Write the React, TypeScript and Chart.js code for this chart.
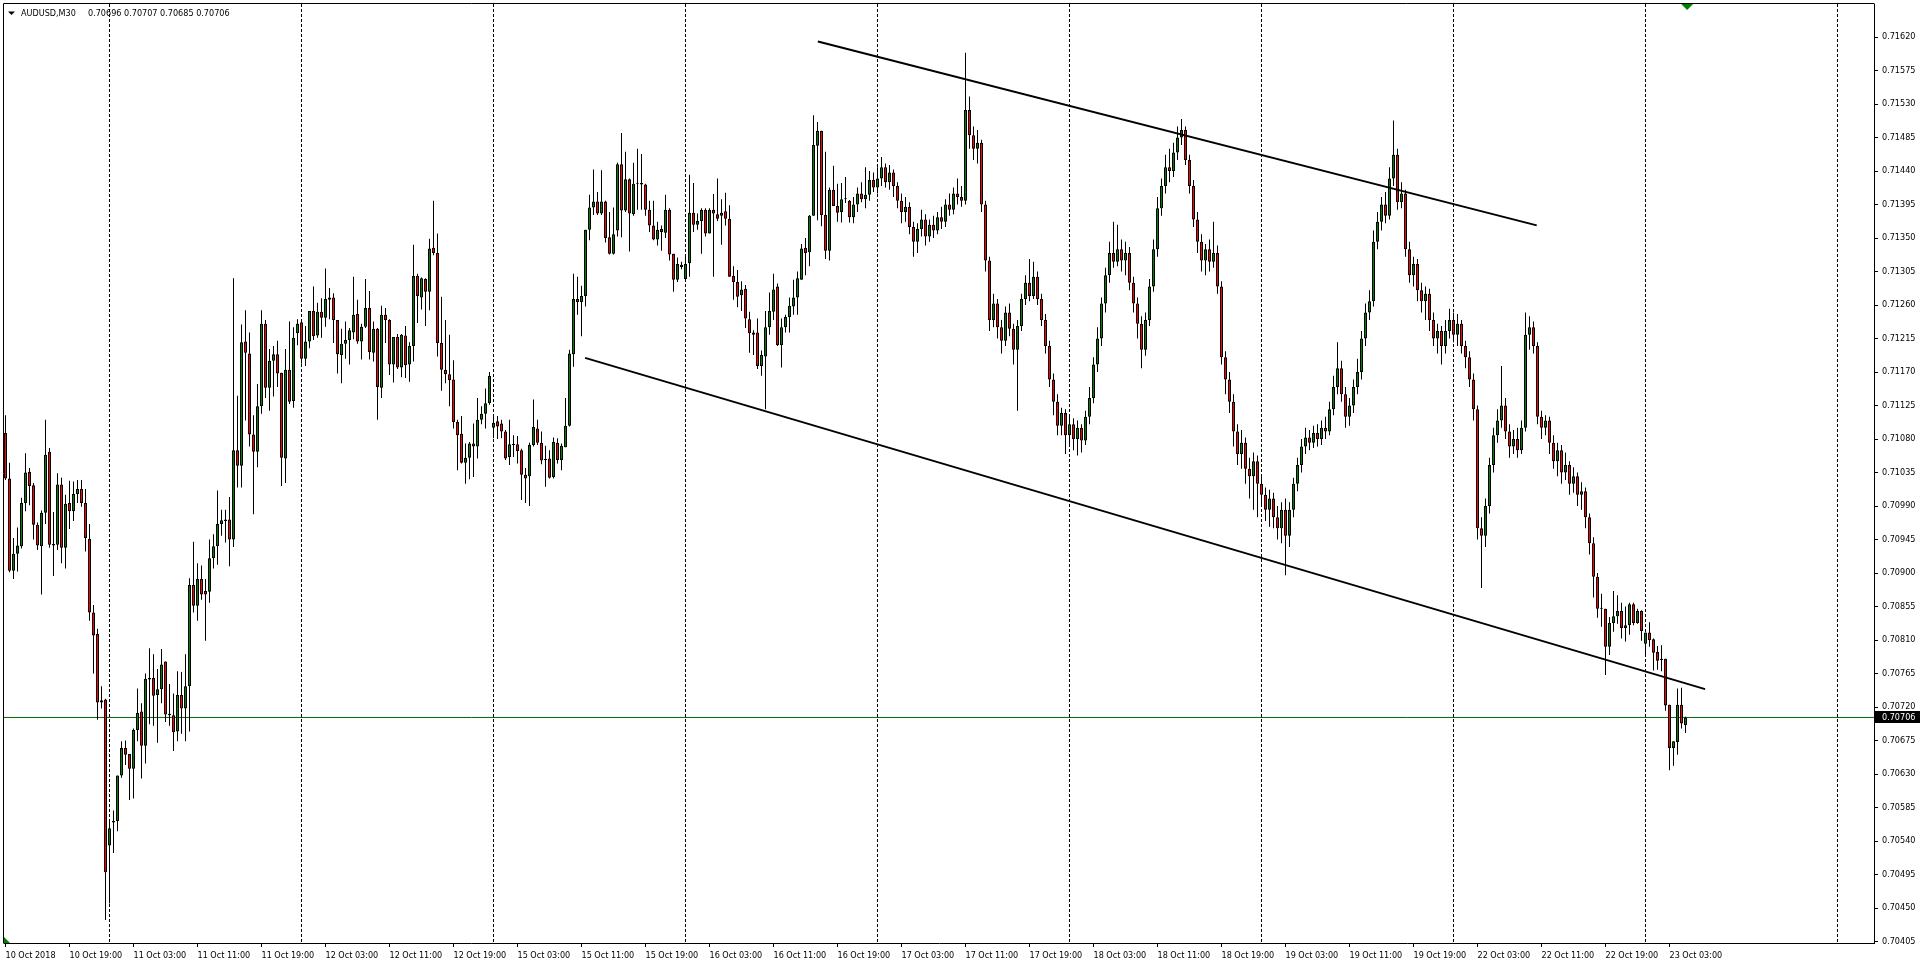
import React, { useEffect, useRef } from "react";
import { Chart, registerables } from "chart.js";

Chart.register(...registerables);

const symbolLabel = "AUDUSD,M30";

const timeLabels = [
  "10 Oct 2018", "10 Oct 19:00", "11 Oct 03:00", "11 Oct 11:00", "11 Oct 19:00",
  "12 Oct 03:00", "12 Oct 11:00", "12 Oct 19:00", "15 Oct 03:00", "15 Oct 11:00",
  "15 Oct 19:00", "16 Oct 03:00", "16 Oct 11:00", "16 Oct 19:00", "17 Oct 03:00",
  "17 Oct 11:00", "17 Oct 19:00", "18 Oct 03:00", "18 Oct 11:00", "18 Oct 19:00",
  "19 Oct 03:00", "19 Oct 11:00", "19 Oct 19:00", "22 Oct 03:00", "22 Oct 11:00",
  "22 Oct 19:00", "23 Oct 03:00",
];
const timeLabelIndex = [
  0, 16, 32, 48, 64, 80, 96, 112, 128, 144, 160, 176, 192, 208, 224, 240, 256,
  272, 288, 304, 320, 336, 352, 368, 384, 400, 416,
];
const daySeparatorIndex = [26, 74, 122, 170, 218, 266, 314, 362, 410, 458];

const priceTicks = [
  0.70405, 0.7045, 0.70495, 0.7054, 0.70585, 0.7063, 0.70675, 0.7072, 0.70765,
  0.7081, 0.70855, 0.709, 0.70945, 0.7099, 0.71035, 0.7108, 0.71125, 0.7117,
  0.71215, 0.7126, 0.71305, 0.7135, 0.71395, 0.7144, 0.71485, 0.7153, 0.71575,
  0.7162,
];

const opens = [
  0.71088, 0.71027, 0.70903, 0.70926, 0.70936, 0.70994, 0.71036, 0.71018, 0.70965, 0.70936,
  0.70981, 0.71063, 0.70939, 0.70938, 0.71019, 0.70934, 0.70994, 0.70983, 0.71006, 0.71013,
  0.70994, 0.70946, 0.70847, 0.70818, 0.70726, 0.7073, 0.70534, 0.70565, 0.70567, 0.70628,
  0.70665, 0.70657, 0.70637, 0.70689, 0.70714, 0.70668, 0.70757, 0.70759, 0.70736, 0.70744,
  0.70781, 0.70709, 0.70709, 0.70687, 0.70736, 0.70718, 0.70748, 0.70884, 0.70856, 0.70892,
  0.70876, 0.70875, 0.7092, 0.70936, 0.70966, 0.7097, 0.70972, 0.70945, 0.71065, 0.71044,
  0.71211, 0.71195, 0.71086, 0.71063, 0.71124, 0.71235, 0.71149, 0.71185, 0.71194, 0.71169,
  0.71054, 0.71173, 0.71131, 0.71222, 0.71237, 0.71188, 0.71211, 0.71252, 0.71219, 0.71251,
  0.71243, 0.71267, 0.7127, 0.7124, 0.71193, 0.71208, 0.71213, 0.71223, 0.71248, 0.71211,
  0.71231, 0.71256, 0.71196, 0.71228, 0.71149, 0.71247, 0.7124, 0.7118, 0.71217, 0.71176,
  0.71219, 0.7118, 0.71205, 0.71299, 0.7127, 0.71295, 0.71278, 0.71337, 0.7133, 0.71209,
  0.71173, 0.71167, 0.7116, 0.71103, 0.71087, 0.71048, 0.71055, 0.71074, 0.7107, 0.71106,
  0.71114, 0.71128, 0.71095, 0.71104, 0.71101, 0.7109, 0.71056, 0.71072, 0.71073, 0.71065,
  0.71032, 0.7103, 0.71072, 0.71094, 0.71075, 0.71052, 0.71054, 0.71029, 0.71075, 0.71052,
  0.71069, 0.71098, 0.71194, 0.71268, 0.71264, 0.71272, 0.71361, 0.71391, 0.71399, 0.71383,
  0.71399, 0.71351, 0.71329, 0.7136, 0.71449, 0.71387, 0.71429, 0.71382, 0.71423, 0.71424,
  0.71422, 0.71388, 0.71367, 0.71348, 0.71362, 0.71357, 0.71388, 0.71329, 0.71294, 0.71314,
  0.71295, 0.71316, 0.71384, 0.71368, 0.71373, 0.71388, 0.71356, 0.71388, 0.71382, 0.7138,
  0.71386, 0.71376, 0.71299, 0.71291, 0.71273, 0.71282, 0.71241, 0.71223, 0.71223, 0.71178,
  0.71191, 0.7123, 0.71251, 0.71285, 0.71206, 0.7123, 0.71244, 0.71258, 0.7127, 0.71294,
  0.71337, 0.71331, 0.7138, 0.71474, 0.71494, 0.71381, 0.71333, 0.71415, 0.71393, 0.71385,
  0.71402, 0.714,
  0.71378, 0.71395, 0.7141, 0.71402, 0.71408, 0.71428, 0.71418, 0.7143,
  0.71445, 0.71425, 0.71438, 0.7142, 0.714, 0.71385, 0.71392, 0.71365, 0.71345, 0.71362,
  0.71375, 0.71352, 0.71368, 0.7136, 0.71378, 0.71372, 0.71395, 0.71388, 0.7141, 0.71405,
  0.714, 0.71522, 0.71488, 0.7147, 0.71478, 0.71395, 0.7132, 0.7124, 0.71262, 0.7123,
  0.71212, 0.7125, 0.71228, 0.712, 0.71232, 0.71268, 0.7129, 0.71272, 0.71298, 0.71268,
  0.7124, 0.71205, 0.7116, 0.7113, 0.71098, 0.71115, 0.71085, 0.711, 0.7108, 0.71095,
  0.71078, 0.7111, 0.71135, 0.7118, 0.71215, 0.71262, 0.713, 0.7133, 0.71318, 0.71335,
  0.7132, 0.7133, 0.7129, 0.71262, 0.71235, 0.712, 0.7124, 0.71285, 0.71335, 0.7139,
  0.7142, 0.71445, 0.7144, 0.71465, 0.71485, 0.71495, 0.71455, 0.7142, 0.71375, 0.71345,
  0.7132, 0.71335, 0.71318, 0.7133, 0.71285, 0.7119, 0.7116, 0.7113, 0.7109, 0.7106,
  0.71075, 0.7104, 0.7103, 0.7105, 0.7102, 0.71005, 0.70985, 0.71, 0.70975, 0.7096,
  0.70985, 0.7095, 0.70985, 0.7102, 0.71045, 0.7107, 0.71082, 0.71075, 0.71088, 0.7108,
  0.71095, 0.7109, 0.7112, 0.7115, 0.71175, 0.7114, 0.7111, 0.71125, 0.7115, 0.7117,
  0.71215, 0.7125, 0.71265, 0.71345, 0.71372, 0.71395, 0.7138, 0.7143, 0.71462, 0.71398,
  0.7141, 0.71335, 0.713, 0.71315, 0.7128, 0.71265, 0.71275, 0.7124, 0.71215, 0.71225,
  0.71205, 0.71225, 0.7124, 0.7122, 0.71235, 0.71205, 0.7119, 0.7116, 0.7112, 0.7096,
  0.7095, 0.7099, 0.71045, 0.71085, 0.71105, 0.71125, 0.7109, 0.7107, 0.7108, 0.71065,
  0.71095, 0.7122, 0.7123, 0.71205, 0.7111, 0.71095, 0.71105, 0.71075, 0.7105, 0.71065,
  0.71035, 0.71045, 0.7102, 0.7103, 0.71005, 0.7101, 0.70975, 0.7094, 0.70895, 0.70853,
  0.70852, 0.70801, 0.70833, 0.70842, 0.70849, 0.70826, 0.7083, 0.70858, 0.70833, 0.70849,
  0.70805, 0.7082, 0.70811, 0.70794, 0.70785, 0.70785, 0.70723, 0.70665, 0.70673, 0.70723,
  0.70696,
];
const highs = [
  0.71112, 0.71048, 0.70947, 0.70961, 0.71001, 0.71061, 0.71041, 0.71021, 0.70968, 0.70984,
  0.71106, 0.71068, 0.70982, 0.71034, 0.71028, 0.71005, 0.71024, 0.71023, 0.71025, 0.71025,
  0.71013, 0.70966, 0.70857, 0.70825, 0.70748, 0.70731, 0.70568, 0.70581, 0.70628, 0.70674,
  0.70675, 0.70657, 0.70691, 0.70745, 0.70725, 0.70765, 0.70799, 0.70791, 0.70771, 0.70798,
  0.70781, 0.70751, 0.70738, 0.70768, 0.70767, 0.70791, 0.70893, 0.70942, 0.70913, 0.7091,
  0.70892, 0.70945, 0.70952, 0.71011, 0.70985, 0.70985, 0.71002, 0.71296, 0.71138, 0.71234,
  0.71253, 0.71223, 0.71112, 0.71154, 0.71253, 0.7124, 0.71201, 0.71205, 0.71212, 0.71169,
  0.71201, 0.71238, 0.7123, 0.71241, 0.71238, 0.71232, 0.71252, 0.71285, 0.71263, 0.71269,
  0.71309, 0.71283, 0.71276, 0.7124, 0.71228, 0.71238, 0.71229, 0.71298, 0.71267, 0.71235,
  0.71295, 0.71279, 0.71238, 0.71229, 0.71259, 0.71256, 0.71241, 0.71217, 0.71221, 0.71221,
  0.71232, 0.7121, 0.71341, 0.71302, 0.71297, 0.71296, 0.71349, 0.714, 0.71356, 0.71271,
  0.7124, 0.7122, 0.71186, 0.71106, 0.71111, 0.71074, 0.71076, 0.71101, 0.71135, 0.71124,
  0.71148, 0.7117, 0.7111, 0.71111, 0.71106, 0.71092, 0.71106, 0.71085, 0.71084, 0.71067,
  0.71041, 0.71075, 0.71133, 0.71106, 0.7109, 0.71071, 0.71065, 0.71082, 0.71081, 0.71074,
  0.71135, 0.712, 0.71302, 0.71298, 0.71286, 0.71361, 0.71408, 0.71442, 0.71412, 0.71441,
  0.714, 0.71385, 0.71391, 0.71451, 0.71491, 0.71466, 0.7143, 0.71451, 0.7147, 0.71463,
  0.71423, 0.714, 0.714, 0.71372, 0.71367, 0.71408, 0.7139, 0.71329, 0.71324, 0.71318,
  0.71328, 0.71435, 0.71424, 0.71383, 0.7139, 0.7139, 0.7139, 0.71409, 0.7143, 0.71402,
  0.71411, 0.71394, 0.71312, 0.71307, 0.71292, 0.71287, 0.71251, 0.71226, 0.71242, 0.71199,
  0.71252, 0.71277, 0.71302, 0.71289, 0.71242, 0.71247, 0.7127, 0.71294, 0.71305, 0.71342,
  0.7135, 0.71381, 0.71515, 0.71506, 0.71494, 0.71466, 0.71418, 0.71447, 0.71423, 0.71424,
  0.71432, 0.71401,
  0.71405, 0.71418, 0.71425, 0.71445, 0.7144, 0.71438, 0.71445, 0.71459,
  0.7145, 0.71448, 0.71442, 0.71425, 0.7141, 0.71405, 0.71398, 0.71372, 0.7137, 0.71388,
  0.71382, 0.71375, 0.7138, 0.71385, 0.71392, 0.71402, 0.7141, 0.71418, 0.7143, 0.7142,
  0.71599, 0.7154, 0.715, 0.71495, 0.71482, 0.714, 0.71325, 0.71275, 0.71268, 0.7124,
  0.71258, 0.71262, 0.71235, 0.7124, 0.71275, 0.713, 0.71322, 0.71318, 0.71305, 0.71275,
  0.71248, 0.71212, 0.71168, 0.7114, 0.71122, 0.7112, 0.71112, 0.71108, 0.71105, 0.711,
  0.71118, 0.7115, 0.7119, 0.7123, 0.7127, 0.7131, 0.71345, 0.71372, 0.71368, 0.71348,
  0.71345, 0.71338, 0.71298, 0.7127, 0.71245, 0.7125, 0.71295, 0.71348, 0.71405, 0.7143,
  0.71462, 0.7147, 0.71478, 0.715, 0.7151, 0.715, 0.71462, 0.71428, 0.71385, 0.71355,
  0.71342, 0.71348, 0.71372, 0.7134, 0.71292, 0.71198, 0.7117, 0.7114, 0.711, 0.71092,
  0.71082, 0.71055, 0.71062, 0.71058, 0.7103, 0.71015, 0.71012, 0.71008, 0.7099, 0.70995,
  0.71, 0.70995, 0.71028, 0.71055, 0.7108, 0.71095, 0.71092, 0.71098, 0.711, 0.71105,
  0.7111, 0.7113, 0.71165, 0.7121, 0.71185, 0.7115, 0.71135, 0.7116, 0.71188, 0.71225,
  0.71262, 0.7128, 0.7136, 0.71385, 0.71405, 0.71412, 0.71445, 0.71508, 0.7147, 0.71425,
  0.71415, 0.71345, 0.71325, 0.71322, 0.7129, 0.71285, 0.71282, 0.7125, 0.71235, 0.71232,
  0.7124, 0.71255, 0.7125, 0.71248, 0.7124, 0.71212, 0.71198, 0.71168, 0.71125, 0.70975,
  0.71, 0.71055, 0.71095, 0.7112, 0.71178, 0.71135, 0.711, 0.71092, 0.71095, 0.71105,
  0.7125, 0.71245, 0.71238, 0.7121, 0.71118, 0.71112, 0.7111, 0.71085, 0.71075, 0.71072,
  0.71062, 0.7105, 0.71042, 0.71035, 0.71022, 0.71015, 0.7098, 0.70948, 0.709, 0.70872,
  0.70852, 0.70841, 0.70876, 0.7087, 0.7086, 0.70855, 0.7086, 0.7086, 0.70852, 0.7085,
  0.7082, 0.70834, 0.70812, 0.70802, 0.70803, 0.70785, 0.70723, 0.70674, 0.70745, 0.70746,
  0.70707,
];
const lows = [
  0.71025, 0.70901, 0.70892, 0.70902, 0.70933, 0.70983, 0.70991, 0.70945, 0.70931, 0.70871,
  0.70966, 0.70934, 0.70896, 0.70931, 0.70913, 0.70906, 0.70959, 0.7097, 0.70994, 0.70989,
  0.70929, 0.70836, 0.70765, 0.70703, 0.70718, 0.70434, 0.70456, 0.70524, 0.70553, 0.70625,
  0.70642, 0.70595, 0.70597, 0.70674, 0.70624, 0.70644, 0.70697, 0.70695, 0.70672, 0.70725,
  0.707, 0.70695, 0.70661, 0.70674, 0.70684, 0.70674, 0.70687, 0.70847, 0.70836, 0.70864,
  0.70809, 0.7086, 0.70906, 0.70911, 0.7095, 0.70941, 0.70909, 0.70935, 0.71015, 0.71015,
  0.71105, 0.7107, 0.70979, 0.71042, 0.71114, 0.71135, 0.71118, 0.71137, 0.7115, 0.71017,
  0.71021, 0.71127, 0.71122, 0.71206, 0.71181, 0.71178, 0.71202, 0.71213, 0.71216, 0.71216,
  0.71231, 0.71241, 0.71209, 0.71168, 0.71155, 0.71188, 0.7118, 0.71214, 0.71208, 0.71187,
  0.71229, 0.71187, 0.71184, 0.71106, 0.71135, 0.71209, 0.71166, 0.71156, 0.71174, 0.71163,
  0.71162, 0.71157, 0.71184, 0.71236, 0.71254, 0.71232, 0.71253, 0.71327, 0.71191, 0.71145,
  0.71155, 0.71124, 0.71094, 0.71038, 0.71047, 0.7102, 0.71026, 0.71029, 0.71054, 0.711,
  0.71094, 0.71126, 0.71081, 0.7108, 0.71081, 0.71052, 0.71045, 0.71056, 0.71047, 0.70998,
  0.70994, 0.7099, 0.7107, 0.71072, 0.71046, 0.71016, 0.71027, 0.71027, 0.71047, 0.71038,
  0.71069, 0.71097, 0.71177, 0.71247, 0.71218, 0.71258, 0.71347, 0.71381, 0.71381, 0.71381,
  0.71344, 0.71328, 0.71328, 0.71352, 0.71351, 0.71385, 0.71332, 0.7138, 0.71388, 0.71388,
  0.7138, 0.71358, 0.71347, 0.7134, 0.71333, 0.7135, 0.7132, 0.71278, 0.71291, 0.71308,
  0.71293, 0.71298, 0.71358, 0.71361, 0.71329, 0.71352, 0.71356, 0.71298, 0.71373, 0.71341,
  0.71367, 0.71298, 0.71267, 0.71257, 0.71252, 0.71229, 0.71196, 0.71193, 0.71174, 0.71165,
  0.7112, 0.7122, 0.7124, 0.71205, 0.71176, 0.71223, 0.71223, 0.71247, 0.71247, 0.71294,
  0.713, 0.71312, 0.7138, 0.71374, 0.71366, 0.71322, 0.7132, 0.71393, 0.71372, 0.71371,
  0.71397, 0.71371,
  0.7137, 0.71385, 0.71398, 0.7139, 0.714, 0.71412, 0.7141, 0.7142,
  0.71418, 0.71415, 0.71405, 0.7139, 0.7137, 0.71372, 0.71355, 0.71325, 0.7133, 0.71352,
  0.7134, 0.71345, 0.7135, 0.71355, 0.71362, 0.71365, 0.7138, 0.71382, 0.71395, 0.71392,
  0.71395, 0.7147, 0.71455, 0.7145, 0.71385, 0.71305, 0.71225, 0.7123, 0.71215, 0.71195,
  0.71205, 0.71218, 0.7118, 0.71118, 0.71225, 0.7126, 0.71265, 0.71268, 0.7126, 0.71232,
  0.71195, 0.7115, 0.71112, 0.71085, 0.71085, 0.7106, 0.7107, 0.71065, 0.71058, 0.71062,
  0.71072, 0.711, 0.71128, 0.7117, 0.71205, 0.7125, 0.7129, 0.7131, 0.71312, 0.71305,
  0.713, 0.7128, 0.7125, 0.71215, 0.71175, 0.71192, 0.71232, 0.71278, 0.71325, 0.7138,
  0.7141, 0.71425, 0.71432, 0.71455, 0.71475, 0.71448, 0.7141, 0.71365, 0.7133, 0.71305,
  0.713, 0.71305, 0.7131, 0.71275, 0.7118, 0.7114, 0.71115, 0.7107, 0.71045, 0.7104,
  0.7102, 0.71, 0.70985, 0.70975, 0.7099, 0.7097, 0.70962, 0.7096, 0.70945, 0.7094,
  0.70897, 0.70935, 0.70975, 0.7101, 0.71035, 0.7106, 0.71065, 0.71068, 0.7107, 0.71072,
  0.7108, 0.71085, 0.71112, 0.7114, 0.7113, 0.71095, 0.71098, 0.71115, 0.7114, 0.7116,
  0.71205, 0.7124, 0.71258, 0.71335, 0.7136, 0.7137, 0.71375, 0.7142, 0.71388, 0.7139,
  0.71325, 0.7129, 0.71285, 0.71265, 0.7125, 0.7124, 0.71225, 0.71205, 0.71195, 0.7118,
  0.71195, 0.71215, 0.7121, 0.71205, 0.71195, 0.71175, 0.7115, 0.71105, 0.70945, 0.7088,
  0.70935, 0.7098, 0.71035, 0.71075, 0.71095, 0.7108, 0.71055, 0.7106, 0.71055, 0.7106,
  0.7109, 0.712, 0.71195, 0.711, 0.7108, 0.71085, 0.7106, 0.7104, 0.7103, 0.7102,
  0.71025, 0.71005, 0.71008, 0.7099, 0.70985, 0.7096, 0.70925, 0.70867, 0.7084, 0.70828,
  0.70763, 0.7079, 0.70821, 0.70832, 0.70812, 0.70808, 0.70817, 0.7083, 0.70832, 0.70809,
  0.7079, 0.70801, 0.70769, 0.7077, 0.70768, 0.70715, 0.70635, 0.70641, 0.70656, 0.70691,
  0.70685,
];
const closes = [
  0.71027, 0.70903, 0.70926, 0.70937, 0.70994, 0.71035, 0.71017, 0.70965, 0.70937, 0.70981,
  0.71059, 0.70938, 0.70937, 0.71019, 0.70934, 0.70993, 0.70983, 0.71006, 0.71013, 0.70994,
  0.70947, 0.70847, 0.70816, 0.70726, 0.70729, 0.70498, 0.70557, 0.70567, 0.70628, 0.70665,
  0.70656, 0.70637, 0.70689, 0.70712, 0.70668, 0.70758, 0.70759, 0.70735, 0.70744, 0.70777,
  0.7071, 0.70711, 0.70686, 0.70736, 0.70718, 0.70748, 0.70884, 0.70856, 0.70892, 0.70871,
  0.70871, 0.7092, 0.70936, 0.70966, 0.70971, 0.70972, 0.70945, 0.71065, 0.71044, 0.7121,
  0.71196, 0.71086, 0.71063, 0.71124, 0.71235, 0.71149, 0.71185, 0.71194, 0.71168, 0.71055,
  0.71173, 0.7113, 0.71216, 0.71235, 0.71188, 0.71211, 0.71252, 0.71218, 0.71251, 0.71243,
  0.71268, 0.7127, 0.7124, 0.71194, 0.71208, 0.71213, 0.71226, 0.71247, 0.71211, 0.71231,
  0.71256, 0.71197, 0.71228, 0.7115, 0.71247, 0.7124, 0.7118, 0.71217, 0.71176, 0.7122,
  0.71179, 0.71205, 0.71299, 0.71272, 0.71296, 0.71278, 0.71336, 0.7133, 0.71209, 0.71173,
  0.71167, 0.71159, 0.71103, 0.71085, 0.71048, 0.71055, 0.71074, 0.7107, 0.71106, 0.71114,
  0.71128, 0.71165, 0.71102, 0.71097, 0.7109, 0.71054, 0.71073, 0.71072, 0.71064, 0.71032,
  0.71027, 0.71072, 0.71096, 0.71075, 0.71051, 0.71053, 0.71028, 0.71076, 0.71052, 0.71071,
  0.71098, 0.71195, 0.71268, 0.71264, 0.71272, 0.71361, 0.71391, 0.71399, 0.71383, 0.71399,
  0.7135, 0.71329, 0.71355, 0.71449, 0.71387, 0.71429, 0.71383, 0.71423, 0.71424, 0.71422,
  0.71388, 0.71367, 0.71348, 0.71361, 0.71358, 0.71388, 0.71328, 0.71294, 0.71315, 0.71311,
  0.71315, 0.71384, 0.71368, 0.71373, 0.71388, 0.71356, 0.71388, 0.71383, 0.71376, 0.71384,
  0.71376, 0.71298, 0.71291, 0.71271, 0.71281, 0.71242, 0.71222, 0.7122, 0.71178, 0.71193,
  0.7123, 0.71252, 0.71281, 0.71206, 0.7123, 0.71244, 0.71259, 0.7127, 0.71296, 0.71336,
  0.7133, 0.7138, 0.71475, 0.71494, 0.71381, 0.71333, 0.71415, 0.71393, 0.71384, 0.71402,
  0.71402, 0.71378,
  0.71395, 0.7141, 0.71402, 0.71408, 0.71428, 0.71418, 0.7143, 0.71445,
  0.71425, 0.71438, 0.7142, 0.714, 0.71385, 0.71392, 0.71365, 0.71345, 0.71362, 0.71375,
  0.71352, 0.71368, 0.7136, 0.71378, 0.71372, 0.71395, 0.71388, 0.7141, 0.71405, 0.714,
  0.71522, 0.71488, 0.7147, 0.71478, 0.71395, 0.7132, 0.7124, 0.71262, 0.7123, 0.71212,
  0.7125, 0.71228, 0.712, 0.71232, 0.71268, 0.7129, 0.71272, 0.71298, 0.71268, 0.7124,
  0.71205, 0.7116, 0.7113, 0.71098, 0.71115, 0.71085, 0.711, 0.7108, 0.71095, 0.71078,
  0.7111, 0.71135, 0.7118, 0.71215, 0.71262, 0.713, 0.7133, 0.71318, 0.71335, 0.7132,
  0.7133, 0.7129, 0.71262, 0.71235, 0.712, 0.7124, 0.71285, 0.71335, 0.7139, 0.7142,
  0.71445, 0.7144, 0.71465, 0.71485, 0.71495, 0.71455, 0.7142, 0.71375, 0.71345, 0.7132,
  0.71335, 0.71318, 0.7133, 0.71285, 0.7119, 0.7116, 0.7113, 0.7109, 0.7106, 0.71075,
  0.7104, 0.7103, 0.7105, 0.7102, 0.71005, 0.70985, 0.71, 0.70975, 0.7096, 0.70985,
  0.7095, 0.70985, 0.7102, 0.71045, 0.7107, 0.71082, 0.71075, 0.71088, 0.7108, 0.71095,
  0.7109, 0.7112, 0.7115, 0.71175, 0.7114, 0.7111, 0.71125, 0.7115, 0.7117, 0.71215,
  0.7125, 0.71265, 0.71345, 0.71372, 0.71395, 0.7138, 0.7143, 0.71462, 0.71398, 0.7141,
  0.71335, 0.713, 0.71315, 0.7128, 0.71265, 0.71275, 0.7124, 0.71215, 0.71225, 0.71205,
  0.71225, 0.7124, 0.7122, 0.71235, 0.71205, 0.7119, 0.7116, 0.7112, 0.7096, 0.7095,
  0.7099, 0.71045, 0.71085, 0.71105, 0.71125, 0.7109, 0.7107, 0.7108, 0.71065, 0.71095,
  0.7122, 0.7123, 0.71205, 0.7111, 0.71095, 0.71105, 0.71075, 0.7105, 0.71065, 0.71035,
  0.71045, 0.7102, 0.7103, 0.71005, 0.7101, 0.70975, 0.7094, 0.70895, 0.70852, 0.70852,
  0.70801, 0.70833, 0.70842, 0.70849, 0.70826, 0.7083, 0.70858, 0.70833, 0.70849, 0.70822,
  0.7082, 0.7081, 0.70793, 0.70782, 0.70783, 0.70722, 0.70665, 0.70674, 0.70723, 0.70698,
  0.70706,
];

const bidPrice = 0.70706;
const upperChannel = [
  { x: 203.1, y: 0.71614 },
  { x: 382.8, y: 0.71367 },
];
const lowerChannel = [
  { x: 144.9, y: 0.71189 },
  { x: 424.9, y: 0.70744 },
];

const FONT = '"DejaVu Sans Condensed", "Liberation Sans", sans-serif';
const BULL = "rgb(0,128,0)";
const BEAR = "rgb(255,0,0)";

const mtPlugin = {
  id: "mt4look",
  beforeDraw(chart: any) {
    const { ctx, width, height } = chart;
    ctx.save();
    ctx.fillStyle = "#ffffff";
    ctx.fillRect(0, 0, width, height);
    ctx.restore();
  },
  beforeDatasetsDraw(chart: any) {
    const { ctx, chartArea, scales } = chart;
    const xs = scales.x;
    ctx.save();
    ctx.fillStyle = "#000";
    ctx.beginPath();
    ctx.moveTo(8, 11.5);
    ctx.lineTo(15, 11.5);
    ctx.lineTo(11.5, 15);
    ctx.closePath();
    ctx.fill();
    ctx.font = "9px " + FONT;
    ctx.textBaseline = "alphabetic";
    ctx.textAlign = "left";
    ctx.fillText(symbolLabel, 21, 16);
    const n = closes.length - 1;
    const vals = [opens[n], highs[n], lows[n], closes[n]].map((v) => v.toFixed(5)).join(" ");
    ctx.fillText(vals, 88, 16);
    ctx.beginPath();
    ctx.rect(chartArea.left, chartArea.top, chartArea.right - chartArea.left, chartArea.bottom - chartArea.top);
    ctx.clip();
    ctx.strokeStyle = "#000";
    ctx.lineWidth = 1;
    ctx.setLineDash([3, 2]);
    daySeparatorIndex.forEach((i) => {
      const px = Math.floor(xs.getPixelForValue(i)) + 0.5;
      ctx.beginPath();
      ctx.moveTo(px, chartArea.top);
      ctx.lineTo(px, chartArea.bottom);
      ctx.stroke();
    });
    ctx.restore();
  },
  afterDatasetsDraw(chart: any) {
    const { ctx, chartArea, scales } = chart;
    const xs = scales.x;
    const ys = scales.y;
    ctx.save();
    ctx.strokeStyle = "#000";
    ctx.lineWidth = 1;
    ctx.beginPath();
    ctx.moveTo(3.5, chartArea.bottom + 0.5);
    ctx.lineTo(3.5, 3.5);
    ctx.lineTo(chartArea.right + 0.5, 3.5);
    ctx.stroke();
    const lastX = xs.getPixelForValue(closes.length - 1 + 0.4);
    ctx.fillStyle = "rgb(0,128,0)";
    ctx.beginPath();
    ctx.moveTo(lastX - 6, 4);
    ctx.lineTo(lastX + 6, 4);
    ctx.lineTo(lastX, 10);
    ctx.closePath();
    ctx.fill();
    ctx.beginPath();
    ctx.moveTo(4, chartArea.bottom);
    ctx.lineTo(4, chartArea.bottom - 6);
    ctx.lineTo(10, chartArea.bottom);
    ctx.closePath();
    ctx.fill();
    const by = ys.getPixelForValue(bidPrice);
    ctx.fillStyle = "#000";
    ctx.fillRect(chartArea.right + 1, Math.round(by) - 6, 46, 12);
    ctx.fillStyle = "#fff";
    ctx.font = "9px " + FONT;
    ctx.textBaseline = "middle";
    ctx.textAlign = "left";
    ctx.fillText(bidPrice.toFixed(5), chartArea.right + 8, Math.round(by) + 0.5);
    ctx.restore();
  },
};

export default function App() {
  const canvasRef = useRef<HTMLCanvasElement | null>(null);

  useEffect(() => {
    const canvas = canvasRef.current;
    if (!canvas) return;
    const idx = closes.map((_, i) => i);
    const wickData = idx.map((i) => ({ x: i, y: [lows[i], highs[i]] }));
    const bodyData = idx.map((i) => ({ x: i, y: [opens[i], closes[i]] }));
    const xMin = -0.375;
    const xMax = 467.125;

    const chart = new Chart(canvas, {
      type: "bar",
      data: {
        datasets: [
          {
            type: "line",
            data: upperChannel,
            borderColor: "#000",
            borderWidth: 2,
            pointRadius: 0,
            tension: 0,
            order: 0,
          } as any,
          {
            type: "line",
            data: lowerChannel,
            borderColor: "#000",
            borderWidth: 2,
            pointRadius: 0,
            tension: 0,
            order: 0,
          } as any,
          {
            type: "bar",
            data: bodyData,
            backgroundColor: (c: any) =>
              closes[c.dataIndex] >= opens[c.dataIndex] ? BULL : BEAR,
            borderColor: "#000",
            borderWidth: 1,
            borderSkipped: false,
            barThickness: 3,
            minBarLength: 1,
            inflateAmount: 0,
            grouped: false,
            order: 1,
          } as any,
          {
            type: "bar",
            data: wickData,
            backgroundColor: "#000",
            borderWidth: 0,
            barThickness: 1,
            inflateAmount: 0,
            grouped: false,
            order: 2,
          } as any,
          {
            type: "line",
            data: [
              { x: xMin, y: bidPrice },
              { x: xMax, y: bidPrice },
            ],
            borderColor: "rgb(0,100,0)",
            borderWidth: 1,
            pointRadius: 0,
            tension: 0,
            order: 3,
          } as any,
        ],
      },
      options: {
        responsive: false,
        animation: false,
        devicePixelRatio: 1,
        events: [],
        layout: { padding: { left: 4, top: 4, right: 0, bottom: 0 } },
        plugins: {
          legend: { display: false },
          tooltip: { enabled: false },
          title: { display: false },
        },
        scales: {
          x: {
            type: "linear",
            min: xMin,
            max: xMax,
            offset: false,
            afterBuildTicks: (s: any) => {
              s.ticks = timeLabelIndex.map((v) => ({ value: v }));
            },
            afterFit: (s: any) => {
              s.height = 24;
              s.paddingLeft = 0;
              s.paddingRight = 0;
              s.paddingTop = 0;
              s.paddingBottom = 0;
            },
            ticks: {
              autoSkip: false,
              maxRotation: 0,
              minRotation: 0,
              align: "start",
              padding: 3,
              color: "#000",
              font: { family: FONT, size: 9 },
              callback: (_v: any, i: number) => timeLabels[i],
            },
            grid: {
              drawOnChartArea: false,
              drawTicks: true,
              tickLength: 4,
              color: "#000",
              offset: false,
            },
            border: { display: true, color: "#000", width: 1 },
          },
          y: {
            type: "linear",
            position: "right",
            min: 0.70403,
            max: 0.716644,
            beginAtZero: false,
            afterBuildTicks: (s: any) => {
              s.ticks = priceTicks.map((v) => ({ value: v }));
            },
            afterFit: (s: any) => {
              s.width = 46;
              s.paddingTop = 0;
              s.paddingBottom = 0;
              s.paddingLeft = 0;
              s.paddingRight = 0;
            },
            ticks: {
              autoSkip: false,
              padding: 4,
              color: "#000",
              font: { family: FONT, size: 9 },
              callback: (v: any) => Number(v).toFixed(5),
            },
            grid: {
              drawOnChartArea: false,
              drawTicks: true,
              tickLength: 4,
              color: "#000",
            },
            border: { display: true, color: "#000", width: 1 },
          },
        },
      } as any,
      plugins: [mtPlugin as any],
    });
    return () => chart.destroy();
  }, []);

  return (
    <div style={{ position: "fixed", left: 0, top: 0, width: 1920, height: 967, background: "#fff" }}>
      <canvas ref={canvasRef} width={1920} height={967} style={{ display: "block" }} />
    </div>
  );
}
